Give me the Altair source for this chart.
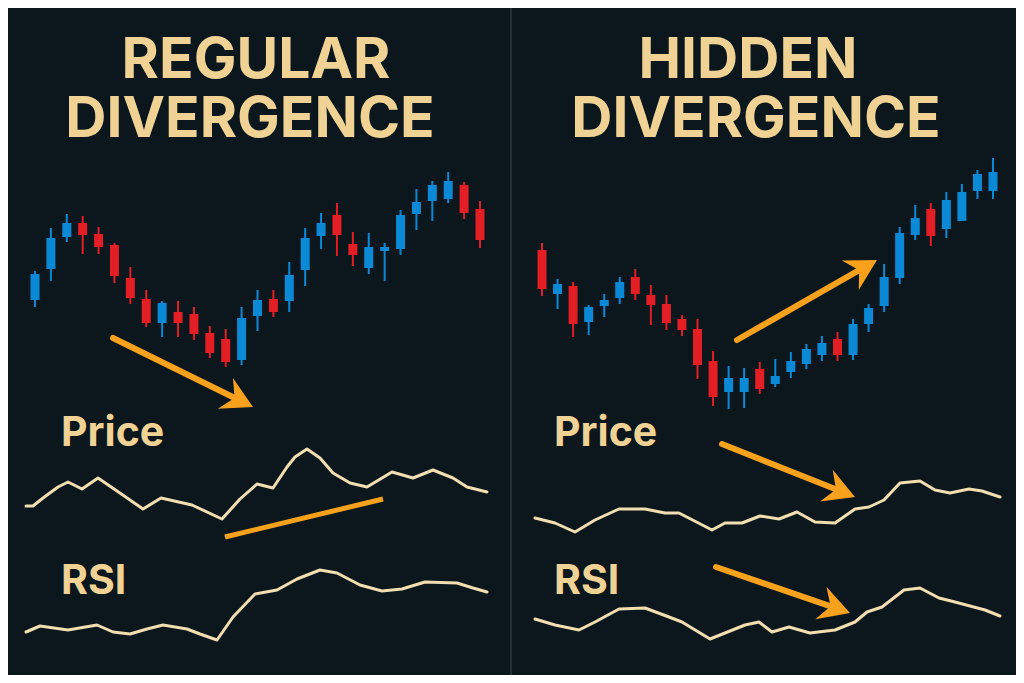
import altair as alt
import pandas as pd

BG = "#0b171d"
RED = "#e31e24"
BLUE = "#0a8ad6"
ORANGE = "#f7a11c"
CREAM = "#f2deb0"
GOLD = "#f0d394"
DIVIDER = "#3a4a51"

# ---------------- candle data (price levels) ----------------
left_open = [400, 431, 463, 477, 466, 455, 422, 401, 377, 388, 386, 367, 361, 340, 384,
             401, 399, 430, 464, 485, 456, 432, 449, 451, 486, 499, 501, 515, 491]
left_high = [429, 472, 486, 484, 473, 457, 433, 410, 399, 399, 393, 374, 371, 393, 410,
             410, 438, 472, 487, 497, 468, 467, 457, 490, 511, 519, 528, 518, 499]
left_low = [393, 419, 458, 446, 446, 417, 396, 373, 363, 363, 360, 342, 333, 335, 369,
            383, 388, 414, 451, 444, 434, 426, 419, 445, 470, 479, 497, 481, 452]
left_close = [426, 462, 477, 465, 453, 424, 402, 377, 397, 377, 366, 347, 338, 382, 400,
              388, 425, 462, 477, 465, 445, 453, 453, 485, 498, 515, 519, 487, 460]

right_open = [450, 406, 414, 378, 394, 402, 423, 405, 396, 381, 371, 339, 308, 308, 331,
              316, 328, 336, 345, 361, 345, 376, 394, 422, 465, 491, 471, 479, 509, 509]
right_high = [457, 421, 418, 395, 406, 423, 431, 415, 405, 385, 381, 349, 334, 332, 338,
              341, 348, 356, 364, 368, 381, 396, 436, 473, 495, 497, 508, 516, 530, 542]
right_low = [404, 391, 363, 365, 383, 396, 400, 375, 370, 364, 321, 294, 291, 292, 306,
             313, 322, 331, 339, 339, 340, 368, 388, 416, 460, 454, 462, 479, 501, 501]
right_close = [411, 416, 376, 393, 400, 418, 406, 395, 377, 370, 335, 303, 322, 322, 311,
               324, 339, 351, 357, 345, 376, 392, 423, 467, 482, 464, 500, 508, 526, 528]

# ---------------- line data (x position, level) ----------------
lp_x = [26, 33, 43, 58, 68, 82, 98, 117, 143, 161, 192, 222, 240, 257, 273, 287, 295, 307,
        320, 333, 350, 367, 392, 413, 433, 453, 467, 487]
lp_y = [194, 194, 202, 213, 218, 211, 222, 209, 191, 202, 195, 181, 201, 216, 212, 233, 243,
        251, 242, 227, 217, 213, 228, 222, 230, 222, 213, 208]

lr_x = [26, 40, 68, 97, 113, 130, 147, 163, 187, 200, 217, 233, 255, 277, 297, 320, 337,
        360, 382, 402, 425, 457, 473, 487]
lr_y = [68, 74, 70, 75, 68, 66, 71, 75, 71, 66, 60, 83, 106, 110, 121, 130, 127, 115, 109,
        111, 118, 117, 112, 108]

rp_x = [535, 555, 575, 595, 619, 645, 665, 679, 712, 725, 742, 760, 779, 797, 815, 835, 855,
        869, 884, 900, 920, 935, 950, 969, 982, 1000]
rp_y = [182, 177, 168, 180, 191, 191, 187, 187, 170, 177, 177, 184, 181, 188, 178, 177, 191,
        193, 200, 217, 219, 210, 207, 211, 209, 203]

rr_x = [535, 555, 579, 595, 619, 645, 669, 682, 710, 725, 745, 759, 772, 789, 810, 835, 855,
        867, 882, 904, 920, 939, 955, 985, 1000]
rr_y = [81, 75, 70, 78, 91, 92, 83, 78, 61, 67, 75, 78, 68, 73, 67, 70, 78, 88, 93, 110, 112,
        102, 98, 90, 84]

# orange segment (no head) and arrows
seg_x1, seg_y1, seg_x2, seg_y2 = [225], [163], [383], [201]
arr_x1 = [113, 737, 722, 716]
arr_y1 = [362, 360, 256, 133]
arr_x2 = [253, 877, 855, 850]
arr_y2 = [293, 440, 203, 87]

# titles and labels
title_text = ["REGULAR", "DIVERGENCE", "HIDDEN", "DIVERGENCE"]
title_x = [256, 250, 748, 756]
title_y = [622, 563, 622, 563]
label_text = ["Price", "RSI", "Price", "RSI"]
label_x = [61, 61, 554, 554]
label_y = [254, 106, 254, 106]

divider_x = [511, 511]
divider_y = [25, 692]

FONT = "Inter"
HEAD = "M0,0L-2.7,-1.5L-1.8,0L-2.7,1.5Z"


def sx():
    return alt.Scale(domain=[8, 1016], nice=False, zero=False)


def sy():
    return alt.Scale(domain=[25, 692], nice=False, zero=False)


def candles(o, h, l, c, rng):
    n = len(o)
    df = pd.DataFrame({"i": list(range(n)), "open": o, "high": h, "low": l, "close": c})
    df["dir"] = ["down" if a > b else "up" for a, b in zip(o, c)]
    xs = alt.Scale(domain=[0, n - 1], range=rng, nice=False, zero=False)
    col = alt.Color("dir:N", scale=alt.Scale(domain=["up", "down"], range=[BLUE, RED]), legend=None)
    base = alt.Chart(df)
    wick = base.mark_rule(strokeWidth=2).encode(
        x=alt.X("i:Q", scale=xs, axis=None),
        y=alt.Y("low:Q", scale=sy(), axis=None),
        y2="high:Q",
        color=col,
    )
    body = base.mark_bar(size=9).encode(
        x=alt.X("i:Q", scale=xs, axis=None),
        y=alt.Y("open:Q", scale=sy(), axis=None),
        y2="close:Q",
        color=col,
    )
    return alt.layer(wick, body)


# lines
line_rows = []
for name, xs_, ys_ in [("lp", lp_x, lp_y), ("lr", lr_x, lr_y), ("rp", rp_x, rp_y), ("rr", rr_x, rr_y)]:
    for k, (a, b) in enumerate(zip(xs_, ys_)):
        line_rows.append({"series": name, "px": a, "lvl": b, "k": k})
lines_df = pd.DataFrame(line_rows)

lines = alt.Chart(lines_df).mark_line(color=CREAM, strokeWidth=3, strokeJoin="round", strokeCap="round").encode(
    x=alt.X("px:Q", scale=sx(), axis=None),
    y=alt.Y("lvl:Q", scale=sy(), axis=None),
    detail="series:N",
    order="k:Q",
)

divider = alt.Chart(pd.DataFrame({"px": divider_x[:1], "y1": divider_y[:1], "y2": divider_y[1:]})).mark_rule(
    color=DIVIDER, strokeWidth=1
).encode(
    x=alt.X("px:Q", scale=sx(), axis=None),
    y=alt.Y("y1:Q", scale=sy(), axis=None),
    y2="y2:Q",
)

seg = alt.Chart(pd.DataFrame({"x1": seg_x1, "y1": seg_y1, "x2": seg_x2, "y2": seg_y2})).mark_rule(
    color=ORANGE, strokeWidth=5
).encode(
    x=alt.X("x1:Q", scale=sx(), axis=None),
    y=alt.Y("y1:Q", scale=sy(), axis=None),
    x2="x2:Q",
    y2="y2:Q",
)

arr_base = alt.Chart(pd.DataFrame({"x1": arr_x1, "y1": arr_y1, "x2": arr_x2, "y2": arr_y2})).transform_calculate(
    ln="sqrt(pow(datum.x2-datum.x1,2)+pow(datum.y2-datum.y1,2))"
).transform_calculate(
    xs="datum.x2 - 18*(datum.x2-datum.x1)/datum.ln",
    ys="datum.y2 - 18*(datum.y2-datum.y1)/datum.ln",
    ang="(atan2(-(datum.y2-datum.y1), datum.x2-datum.x1)*180/PI + 360) % 360",
)
shaft = arr_base.mark_rule(color=ORANGE, strokeWidth=6, strokeCap="round").encode(
    x=alt.X("x1:Q", scale=sx(), axis=None),
    y=alt.Y("y1:Q", scale=sy(), axis=None),
    x2="xs:Q",
    y2="ys:Q",
)
head = arr_base.mark_point(shape=HEAD, filled=True, size=520, color=ORANGE, opacity=1, strokeWidth=0).encode(
    x=alt.X("x2:Q", scale=sx(), axis=None),
    y=alt.Y("y2:Q", scale=sy(), axis=None),
    angle=alt.Angle("ang:Q", scale=None),
)

titles = alt.Chart(pd.DataFrame({"t": title_text, "px": title_x, "lvl": title_y})).mark_text(
    font=FONT, fontSize=57, fontWeight=700, color=GOLD, align="center", baseline="alphabetic"
).encode(
    x=alt.X("px:Q", scale=sx(), axis=None),
    y=alt.Y("lvl:Q", scale=sy(), axis=None),
    text="t:N",
)

labels = alt.Chart(pd.DataFrame({"t": label_text, "px": label_x, "lvl": label_y})).mark_text(
    font=FONT, fontSize=41, fontWeight=700, color=GOLD, align="left", baseline="alphabetic"
).encode(
    x=alt.X("px:Q", scale=sx(), axis=None),
    y=alt.Y("lvl:Q", scale=sy(), axis=None),
    text="t:N",
)

main = alt.layer(divider, lines, seg, shaft, head, titles, labels)
left_c = candles(left_open, left_high, left_low, left_close, [22, 477])
right_c = candles(right_open, right_high, right_low, right_close, [529, 990])

chart = alt.layer(main, left_c, right_c).resolve_scale(x="independent").properties(
    width=1008,
    height=667,
    autosize=alt.AutoSizeParams(type="none"),
    padding=0,
    background=BG,
).configure_view(stroke=None, fill=BG)

chart.save("out.html", embed_options={"renderer": "svg", "actions": False})
